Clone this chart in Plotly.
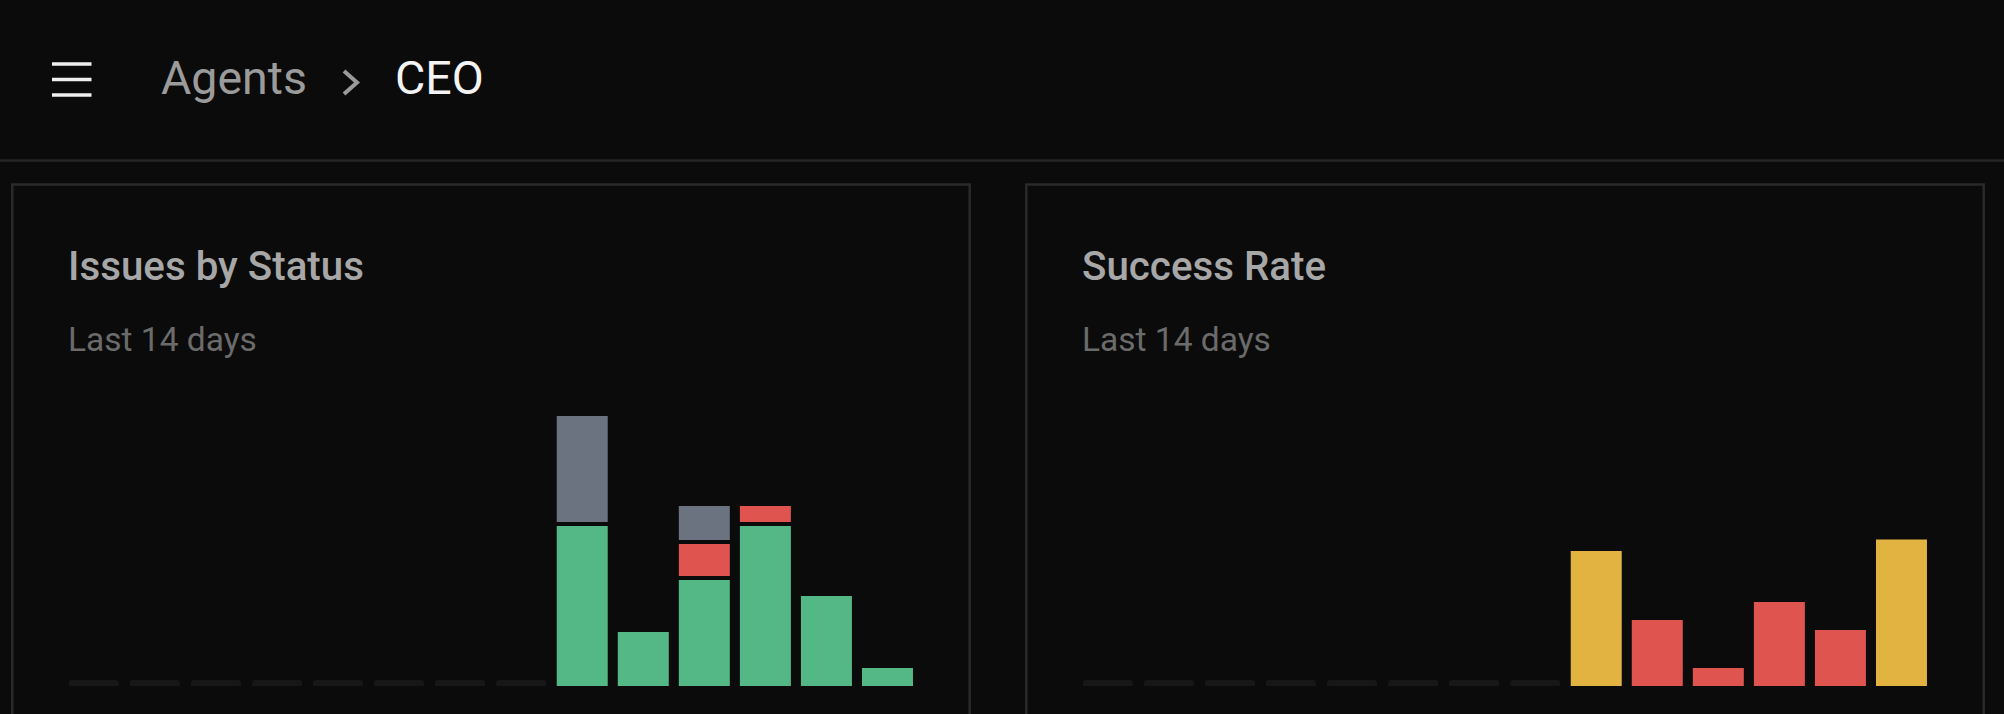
import plotly.graph_objects as go

# ---------------- data ----------------
days = [f"Day {i}" for i in range(1, 15)]
issues_done = [0, 0, 0, 0, 0, 0, 0, 0, 9, 3, 6, 9, 5, 1]
issues_failed = [0, 0, 0, 0, 0, 0, 0, 0, 0, 0, 2, 1, 0, 0]
issues_other = [0, 0, 0, 0, 0, 0, 0, 0, 6, 0, 2, 0, 0, 0]
success_rate = [None, None, None, None, None, None, None, None, 50, 24.4, 6.7, 31.1, 20.7, 54.3]

# ---------------- styles ----------------
W, H = 2004, 714
BG = "#0b0b0b"
GREEN = "#53b886"
RED = "#e05450"
GRAY = "#6b7280"
YELLOW = "#e3b341"
PILL = "#171717"
BORDER = "#2a2a2a"

BASE_PX, TOP_PX = 686, 416
LEFT_MAX = 15
RIGHT_MAX = 100
GAP_PX = 4
PILL_PX = 6
BAR_W = 51 / 61.05
PILL_W = 50 / 61.05


def X(px):
    return px / W


def Y(py):
    return 1 - py / H


def rate_color(v):
    if v is None:
        return YELLOW
    if v >= 80:
        return GREEN
    if v >= 50:
        return YELLOW
    return RED


left_unit = (BASE_PX - TOP_PX) / LEFT_MAX
right_unit = (BASE_PX - TOP_PX) / RIGHT_MAX

totals = [d + f + o for d, f, o in zip(issues_done, issues_failed, issues_other)]
base_failed = issues_done
base_other = [d + f for d, f in zip(issues_done, issues_failed)]

fig = go.Figure()

# placeholder pills (days without data)
fig.add_trace(go.Bar(
    x=days, y=[PILL_PX / left_unit if t == 0 else None for t in totals],
    width=PILL_W, marker=dict(color=PILL, cornerradius=3, line=dict(width=0)),
    xaxis="x", yaxis="y", name="empty"))
fig.add_trace(go.Bar(
    x=days, y=[PILL_PX / right_unit if v is None else None for v in success_rate],
    width=PILL_W, marker=dict(color=PILL, cornerradius=3, line=dict(width=0)),
    xaxis="x2", yaxis="y2", name="empty"))

# issues by status (stacked)
for vals, base, col, nm in [
    (issues_done, [0] * 14, GREEN, "Done"),
    (issues_failed, base_failed, RED, "Failed"),
    (issues_other, base_other, GRAY, "Other"),
]:
    fig.add_trace(go.Bar(
        x=days, y=[v if v > 0 else None for v in vals], base=base,
        width=BAR_W, marker=dict(color=col, line=dict(width=0)),
        xaxis="x", yaxis="y", name=nm))

# separators between stacked segments
g = GAP_PX / left_unit
sep1 = [g if (d > 0 and (f + o) > 0) else None for d, f, o in zip(issues_done, issues_failed, issues_other)]
sep2 = [g if (f > 0 and o > 0) else None for f, o in zip(issues_failed, issues_other)]
fig.add_trace(go.Bar(
    x=days, y=sep1, base=[b - g / 2 for b in base_failed], width=0.9,
    marker=dict(color=BG, line=dict(width=0)), xaxis="x", yaxis="y", name="sep"))
fig.add_trace(go.Bar(
    x=days, y=sep2, base=[b - g / 2 for b in base_other], width=0.9,
    marker=dict(color=BG, line=dict(width=0)), xaxis="x", yaxis="y", name="sep"))

# success rate
fig.add_trace(go.Bar(
    x=days, y=success_rate, width=BAR_W,
    marker=dict(color=[rate_color(v) for v in success_rate], line=dict(width=0)),
    xaxis="x2", yaxis="y2", name="Success Rate"))

ydom = [Y(BASE_PX), Y(TOP_PX)]
axis_off = dict(visible=False, showgrid=False, zeroline=False, fixedrange=True)
fig.update_layout(
    width=W, height=H, autosize=False,
    margin=dict(l=0, r=0, t=0, b=0),
    paper_bgcolor=BG, plot_bgcolor="rgba(0,0,0,0)",
    barmode="overlay", showlegend=False, hovermode=False,
    xaxis=dict(domain=[X(63.3), X(918.0)], range=[-0.5, 13.5], type="category", **axis_off),
    yaxis=dict(domain=ydom, range=[0, LEFT_MAX], **axis_off),
    xaxis2=dict(domain=[X(1077.3), X(1932.0)], range=[-0.5, 13.5], type="category", **axis_off),
    yaxis2=dict(domain=ydom, range=[0, RIGHT_MAX], anchor="x2", **axis_off),
    font=dict(family="Roboto"),
)

shapes = []
# header divider
shapes.append(dict(type="line", xref="paper", yref="paper", x0=0, x1=1, y0=Y(160.5), y1=Y(160.5),
                   line=dict(color="#262626", width=2.4)))
# cards
for x0, x1 in [(12.3, 969.7), (1026.3, 1983.7)]:
    shapes.append(dict(type="rect", xref="paper", yref="paper", x0=X(x0), x1=X(x1), y0=Y(184.5), y1=Y(760),
                       line=dict(color=BORDER, width=2.5), fillcolor="rgba(0,0,0,0)", layer="below"))
# hamburger
for cy in [64, 79.5, 95]:
    shapes.append(dict(type="rect", xref="paper", yref="paper", x0=X(52), x1=X(91.5), y0=Y(cy + 1.8), y1=Y(cy - 1.8),
                       line=dict(width=0), fillcolor="#f0f0f0"))
# chevron
shapes.append(dict(type="path", xref="paper", yref="paper",
                   path=f"M {X(344)} {Y(71)} L {X(357)} {Y(82.5)} L {X(344)} {Y(94)}",
                   line=dict(color="#9a9a9a", width=4)))

annotations = [
    dict(text="Agents", x=X(159), y=Y(77.5), font=dict(size=46.5, color="#9b9b9b", family="Roboto")),
    dict(text="CEO", x=X(393), y=Y(77.5), font=dict(size=46.5, color="#f4f4f4", family="Roboto")),
]
for off, title in [(0, "Issues by Status"), (1014, "Success Rate")]:
    annotations.append(dict(text=title, x=X(66 + off), y=Y(266.5),
                            font=dict(size=40.3, color="#a7a7a7", family="Roboto", weight=500)))
    annotations.append(dict(text="Last 14 days", x=X(66 + off), y=Y(339),
                            font=dict(size=33.5, color="#6b6b6b", family="Roboto")))
for a in annotations:
    a.update(xref="paper", yref="paper", xanchor="left", yanchor="middle", showarrow=False)

fig.update_layout(shapes=shapes, annotations=annotations)

fig.write_html(
    "out.html",
    config={"displayModeBar": False, "staticPlot": True},
    post_script="document.body.style.margin='0';document.body.style.overflow='hidden';document.body.style.background='#0b0b0b';",
)
